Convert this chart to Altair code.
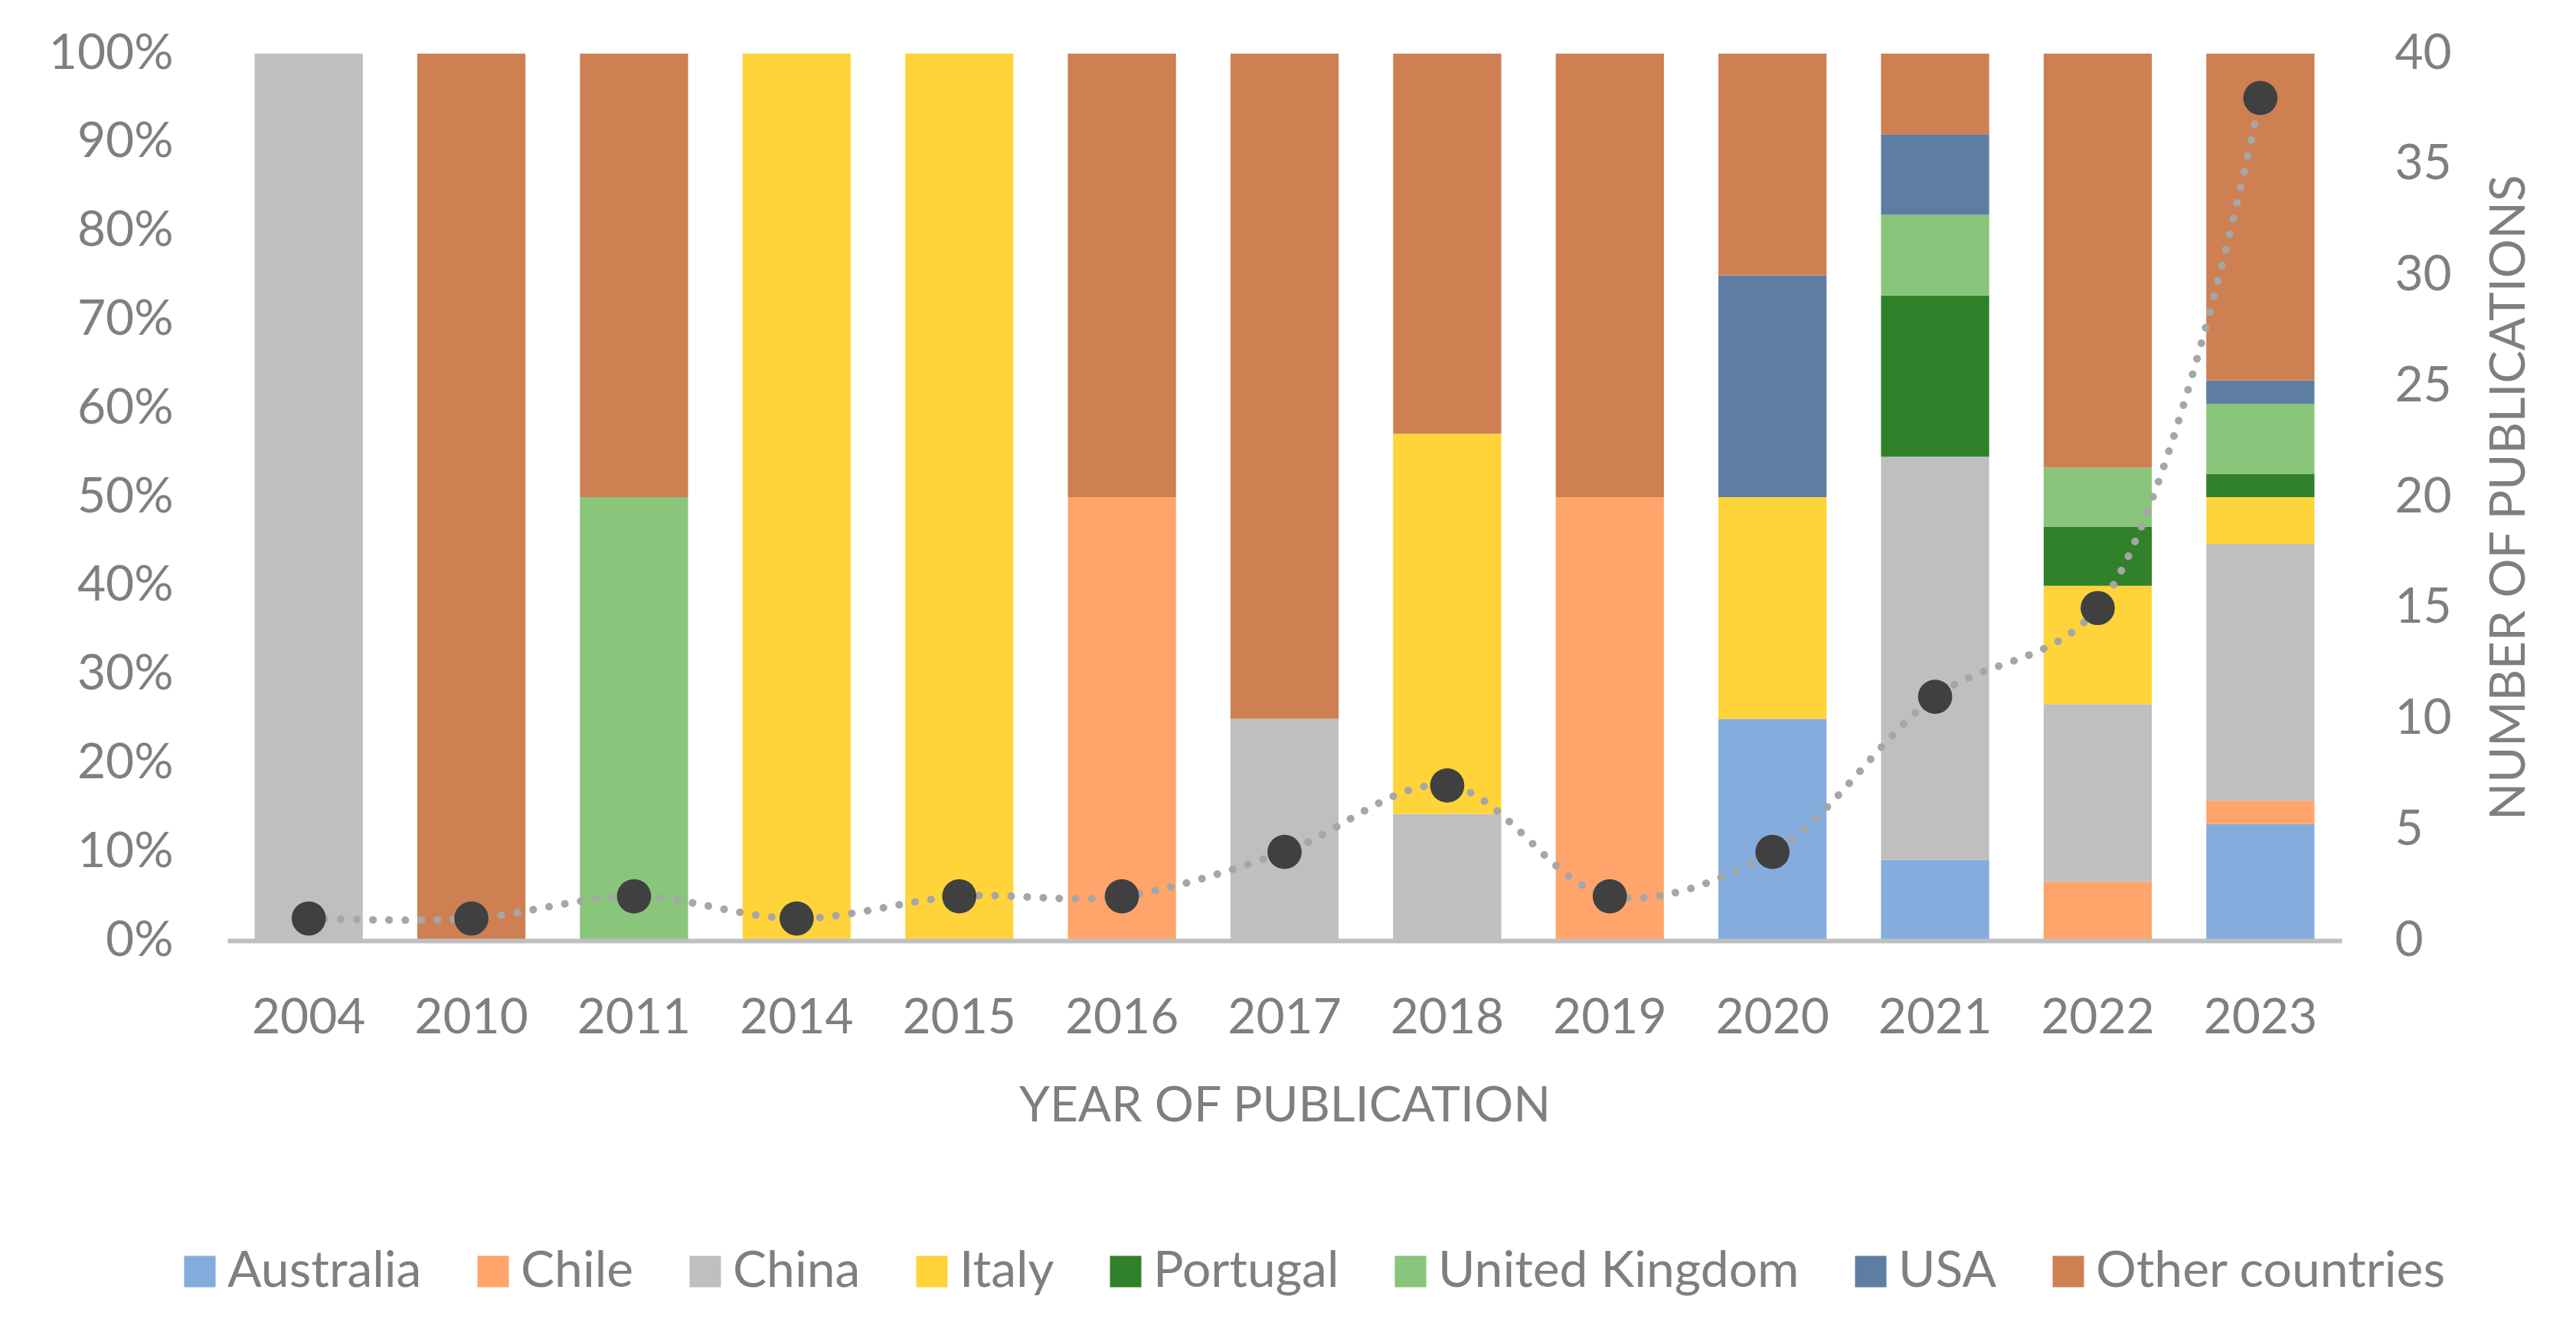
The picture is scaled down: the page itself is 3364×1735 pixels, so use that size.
import altair as alt
import pandas as pd

# ---------------- data ----------------
years = ["2004", "2010", "2011", "2014", "2015", "2016", "2017",
         "2018", "2019", "2020", "2021", "2022", "2023"]
countries = ["Australia", "Chile", "China", "Italy", "Portugal",
             "United Kingdom", "USA", "Other countries"]
colors = ["#84ADDD", "#FFA56B", "#BFBFBF", "#FFD43B", "#30812A",
          "#89C57B", "#5D7DA3", "#CE8053"]

australia = [0, 0, 0, 0, 0, 0, 0, 0, 0, 1, 1, 0, 5]
chile     = [0, 0, 0, 0, 0, 1, 0, 0, 1, 0, 0, 1, 1]
china     = [1, 0, 0, 0, 0, 0, 1, 1, 0, 0, 5, 3, 11]
italy     = [0, 0, 0, 1, 2, 0, 0, 3, 0, 1, 0, 2, 2]
portugal  = [0, 0, 0, 0, 0, 0, 0, 0, 0, 0, 2, 1, 1]
uk        = [0, 0, 1, 0, 0, 0, 0, 0, 0, 0, 1, 1, 3]
usa       = [0, 0, 0, 0, 0, 0, 0, 0, 0, 1, 1, 0, 1]
other     = [0, 1, 1, 0, 0, 1, 3, 3, 1, 1, 1, 7, 14]
totals    = [1, 1, 2, 1, 2, 2, 4, 7, 2, 4, 11, 15, 38]

series = [australia, chile, china, italy, portugal, uk, usa, other]

rows = []
for ci, (c, vals) in enumerate(zip(countries, series)):
    for y, v in zip(years, vals):
        if v > 0:
            rows.append({"year": y, "country": c, "count": v, "order": ci})
bars_df = pd.DataFrame(rows)
tot_df = pd.DataFrame({"year": years, "total": totals})

FONT = "Lato"
TXT = "#7F7F7F"
FS = 64

x_enc = alt.X(
    "year:N", sort=years,
    scale=alt.Scale(paddingInner=0.335, paddingOuter=0.1675),
    axis=alt.Axis(
        title="YEAR OF PUBLICATION", labelAngle=0, ticks=False, tickSize=0,
        labelPadding=120, labelBaseline="alphabetic",
        domainColor="#BFBFBF", domainWidth=6, zindex=1,
        titleY=235, titleBaseline="alphabetic",
    ),
)

bars = alt.Chart(bars_df).mark_bar().encode(
    x=x_enc,
    y=alt.Y(
        "count:Q", stack="normalize",
        scale=alt.Scale(domain=[0, 1]),
        axis=alt.Axis(
            format=".0%", values=[i / 10 for i in range(11)], title=None,
            ticks=False, tickSize=0, domain=False, grid=False, labelPadding=71,
        ),
    ),
    color=alt.Color(
        "country:N", sort=countries,
        scale=alt.Scale(domain=countries, range=colors),
        legend=alt.Legend(
            title=None, orient="none", direction="horizontal", columns=8,
            legendX=-69, legendY=1557, symbolType="square", symbolSize=1681,
            symbolStrokeWidth=0, labelOffset=3, columnPadding=60,
            labelLimit=0, padding=0, labelFontSize=66,
        ),
    ),
    order=alt.Order("order:Q", sort="ascending"),
)

y_right = alt.Y(
    "total:Q", scale=alt.Scale(domain=[0, 40]),
    axis=alt.Axis(
        orient="right", values=list(range(0, 41, 5)),
        title="NUMBER OF PUBLICATIONS", ticks=False, tickSize=0,
        domain=False, grid=False, labelPadding=69,
        titleAngle=270, titleAlign="center", titleBaseline="middle",
        titleX=219, titleY=579,
    ),
)

line = alt.Chart(tot_df).mark_line(
    color="#A6A6A6", strokeWidth=10, strokeDash=[0.1, 20.9],
    strokeCap="round", interpolate="catmull-rom",
).encode(x=x_enc, y=y_right)

points = alt.Chart(tot_df).mark_circle(
    size=2000, color="#404040", opacity=1,
).encode(x=x_enc, y=y_right)

chart = alt.layer(bars, alt.layer(line, points)).resolve_scale(
    y="independent"
).properties(
    width=2761, height=1158,
    autosize=alt.AutoSizeParams(type="none"),
    padding={"left": 289, "top": 62, "right": 290, "bottom": 490},
    background="white",
).configure_view(
    stroke=None
).configure_axis(
    labelFont=FONT, titleFont=FONT, labelFontSize=FS, titleFontSize=FS,
    labelColor=TXT, titleColor=TXT, titleFontWeight="normal",
).configure_legend(
    labelFont=FONT, labelFontSize=66, labelColor=TXT,
)

chart.save("out.html", embed_options={"renderer": "svg", "actions": False})
